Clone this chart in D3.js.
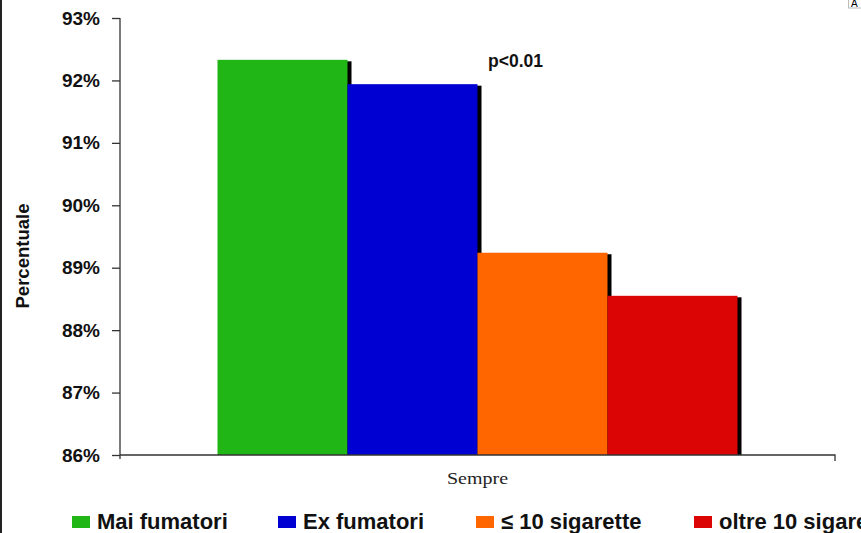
<!DOCTYPE html>
<html><head><meta charset="utf-8">
<script src="https://cdn.jsdelivr.net/npm/d3@7/dist/d3.min.js"></script>
<style>
body{margin:0;background:#fff;}
svg{display:block;}
</style></head>
<body>
<svg id="c" width="861" height="533"></svg>
<script>
const categories = ["Sempre"];
const seriesNames = ["Mai fumatori", "Ex fumatori", "\u2264 10 sigarette", "oltre 10 sigarette"];
const seriesValues = [92.33, 91.94, 89.24, 88.55];
const seriesColors = ["#20b616", "#0000d2", "#ff6600", "#dc0505"];
const yTicks = [86, 87, 88, 89, 90, 91, 92, 93];
const yTickLabels = ["86%", "87%", "88%", "89%", "90%", "91%", "92%", "93%"];
const annotation = "p<0.01";
const yTitle = "Percentuale";

(function(){
const svg = d3.select("#c");
const mL = 120, mR = 835, mT = 18, mB = 455;

// left border line
svg.append("line").attr("x1",1).attr("x2",1).attr("y1",0).attr("y2",533)
  .attr("stroke","#222").attr("stroke-width",2);

// tiny box top-right
svg.append("rect").attr("x",848.5).attr("y",-1).attr("width",14).attr("height",9)
  .attr("fill","#fff").attr("stroke","#bbb");
svg.append("text").attr("x",851).attr("y",7).attr("font-family","Liberation Sans, Arial, sans-serif")
  .attr("font-size",10).attr("fill","#000").text("A");

const y = d3.scaleLinear().domain([86, 93]).range([mB, mT]);
const x0 = d3.scaleBand().domain(categories).range([mL, mR]).paddingInner(0).paddingOuter(0.1875);
const x1 = d3.scaleBand().domain(seriesNames).range([0, x0.bandwidth()]).padding(0);

const g = svg.append("g");
categories.forEach(cat => {
  g.selectAll(".sh").data(seriesValues).enter().append("rect")
    .attr("x", (d,i) => x0(cat) + x1(seriesNames[i]) + 4)
    .attr("y", d => y(d) + 1.5)
    .attr("width", x1.bandwidth())
    .attr("height", d => mB - y(d) - 1.5)
    .attr("fill", "#000");
  g.selectAll(".bar").data(seriesValues).enter().append("rect")
    .attr("x", (d,i) => x0(cat) + x1(seriesNames[i]))
    .attr("y", d => y(d))
    .attr("width", x1.bandwidth())
    .attr("height", d => mB - y(d))
    .attr("fill", (d,i) => seriesColors[i]);
});

// y axis
const yAxis = d3.axisLeft(y).tickValues(yTicks).tickFormat((d,i) => yTickLabels[i]).tickSize(8).tickPadding(12);
const ya = svg.append("g").attr("transform", `translate(${mL},0)`).call(yAxis);
ya.select(".domain").attr("d", `M0,${mT}V${mB+4}`).attr("stroke","#333").attr("stroke-width",1.3);
ya.selectAll(".tick line").attr("stroke","#333").attr("stroke-width",1.3);
ya.selectAll(".tick text").attr("font-family","Liberation Sans, Arial, sans-serif")
  .attr("font-size",19).attr("font-weight","bold").attr("fill","#111");

// x axis
svg.append("path").attr("d", `M${mL},${mB}H${mR}V${mB+6}`)
  .attr("fill","none").attr("stroke","#333").attr("stroke-width",1.3);
svg.selectAll(".xl").data(categories).enter().append("text")
  .attr("x", d => x0(d) + x0.bandwidth()/2).attr("y", 484)
  .attr("text-anchor","middle").attr("font-family","Liberation Serif, Times New Roman, serif")
  .attr("font-size",17).attr("textLength",61).attr("lengthAdjust","spacingAndGlyphs")
  .attr("fill","#222").text(d => d);

// annotation
svg.append("text").attr("x",488).attr("y",67)
  .attr("font-family","Liberation Sans, Arial, sans-serif").attr("font-size",19)
  .attr("font-weight","bold").attr("textLength",55).attr("lengthAdjust","spacingAndGlyphs")
  .attr("fill","#111").text(annotation);

// y title
svg.append("text").attr("transform","translate(29,256) rotate(-90)").attr("text-anchor","middle")
  .attr("font-family","Liberation Sans, Arial, sans-serif").attr("font-size",19)
  .attr("font-weight","bold").attr("textLength",105).attr("lengthAdjust","spacingAndGlyphs")
  .attr("fill","#111").text(yTitle);

// legend
const legX = [72, 278, 476, 694];
const lg = svg.selectAll(".lg").data(seriesNames).enter().append("g")
  .attr("transform",(d,i)=>`translate(${legX[i]},516)`);
lg.append("rect").attr("width",18).attr("height",12).attr("fill",(d,i)=>seriesColors[i]);
lg.append("text").attr("x",25).attr("y",13).attr("font-family","Liberation Sans, Arial, sans-serif")
  .attr("font-size",22).attr("font-weight","bold").attr("fill","#111").text(d=>d);
})();
</script>
</body></html>
